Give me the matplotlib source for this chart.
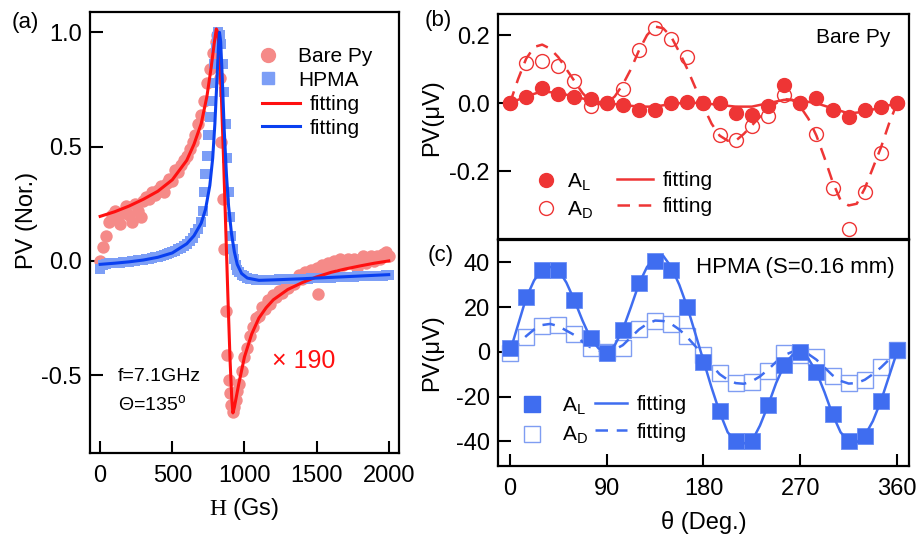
import numpy as np
import matplotlib.pyplot as plt
from matplotlib.lines import Line2D

plt.rcParams['font.family'] = ['Liberation Sans', 'DejaVu Sans']
plt.rcParams['mathtext.fontset'] = 'custom'
plt.rcParams['mathtext.rm'] = 'Liberation Sans'
plt.rcParams['mathtext.it'] = 'Liberation Sans:italic'
plt.rcParams['mathtext.tt'] = 'Liberation Serif'
plt.rcParams['axes.unicode_minus'] = False

# ---- panel (a): normalised PV vs field ----
py_h = np.concatenate([np.arange(0, 801, 20), np.arange(810, 961, 10),
                       np.arange(980, 2001, 20), [1510]])
py_v = [0.00, 0.06, 0.11, 0.17, 0.20, 0.22, 0.19, 0.16, 0.21, 0.24, 0.20,
        0.17, 0.25, 0.22, 0.19, 0.26, 0.28, 0.27, 0.30, 0.29, 0.31, 0.33,
        0.30, 0.34, 0.36, 0.35, 0.40, 0.39, 0.42, 0.44, 0.46, 0.49, 0.52,
        0.55, 0.60, 0.64, 0.70, 0.78, 0.84, 0.91, 0.96,
        0.99, 0.97, 0.80, 0.52, 0.27, 0.05, -0.22, -0.41, -0.52, -0.58,
        -0.63, -0.66, -0.64, -0.61, -0.57, -0.54,
        -0.48, -0.42, -0.38, -0.33, -0.29, -0.25, -0.24, -0.20, -0.21, -0.17,
        -0.19, -0.15, -0.16, -0.13, -0.14, -0.11, -0.12, -0.09, -0.10, -0.08,
        -0.06, -0.08, -0.05, -0.06, -0.04, -0.05, -0.03, -0.04, -0.02, -0.03,
        -0.01, -0.02, 0.00, -0.01, 0.01, -0.02, 0.00, 0.01, -0.01, 0.01,
        -0.03, 0.00, 0.02, -0.01, 0.01, 0.02, 0.00, 0.02, 0.01, 0.03,
        0.04, 0.02,
        -0.145]

hp_h = np.concatenate([np.arange(0, 701, 20), np.arange(710, 961, 10),
                       np.arange(980, 2001, 20)])
hp_v = [-0.035, -0.02, -0.012, -0.01, -0.01, -0.01, -0.008, -0.008, -0.006,
        -0.005, -0.004, -0.002, 0.0, 0.002, 0.004, 0.006, 0.008, 0.01, 0.013,
        0.016, 0.019, 0.022, 0.026, 0.03, 0.034, 0.039, 0.044, 0.05, 0.058,
        0.066, 0.076, 0.088, 0.10, 0.12, 0.14, 0.17,
        0.22, 0.30, 0.38, 0.46, 0.55, 0.63, 0.70, 0.78, 0.86, 0.93, 0.98,
        1.0, 0.99, 0.95, 0.86, 0.74, 0.60, 0.45, 0.30, 0.19, 0.11, 0.05,
        0.01, -0.02, -0.04, -0.05,
        -0.06, -0.068, -0.074, -0.078, -0.08, -0.082, -0.083, -0.083, -0.083,
        -0.083, -0.082, -0.082, -0.082, -0.081, -0.081, -0.08, -0.08, -0.08,
        -0.079, -0.079, -0.078, -0.078, -0.077, -0.077, -0.076, -0.076,
        -0.075, -0.075, -0.074, -0.074, -0.073, -0.073, -0.072, -0.072,
        -0.071, -0.071, -0.07, -0.07, -0.069, -0.069, -0.068, -0.068, -0.067,
        -0.067, -0.066, -0.066, -0.065, -0.065, -0.064, -0.064, -0.063, -0.063]

py_fit_h = [0, 100, 200, 300, 400, 500, 600, 650, 700, 740, 770, 790, 805,
            815, 825, 840, 855, 870, 885, 900, 912, 920, 930, 945, 960, 980,
            1000, 1050, 1100, 1150, 1200, 1300, 1400, 1500, 1600, 1700, 1800,
            1900, 2000]
py_fit_v = [0.195, 0.215, 0.24, 0.27, 0.305, 0.355, 0.44, 0.51, 0.60, 0.72,
            0.85, 0.95, 1.015, 1.0, 0.93, 0.72, 0.45, 0.15, -0.15, -0.43,
            -0.60, -0.665, -0.64, -0.59, -0.54, -0.48, -0.42, -0.32, -0.25,
            -0.205, -0.17, -0.125, -0.095, -0.07, -0.05, -0.035, -0.022,
            -0.01, 0.0]

hp_fit_h = [0, 100, 200, 300, 400, 500, 600, 650, 700, 730, 760, 780, 795,
            810, 820, 827, 835, 845, 860, 875, 890, 910, 930, 950, 980, 1020,
            1100, 1200, 1400, 1600, 1800, 2000]
hp_fit_v = [-0.015, -0.01, -0.004, 0.004, 0.016, 0.035, 0.075, 0.11, 0.165,
            0.225, 0.33, 0.45, 0.60, 0.80, 0.94, 1.0, 0.96, 0.82, 0.57, 0.38,
            0.24, 0.12, 0.04, -0.015, -0.055, -0.075, -0.085, -0.083, -0.078,
            -0.072, -0.066, -0.06]

# ---- panels (b), (c): angle dependence ----
theta = np.arange(0, 361, 15)
theta_fit = np.arange(0, 360.1, 7.5)

bare_al = [0.0, 0.018, 0.046, 0.026, 0.017, 0.012, 0.0, -0.006, -0.02, -0.02,
           0.0, 0.005, 0.0, 0.0, -0.03, -0.035, -0.008, 0.053, 0.0, 0.015,
           -0.02, -0.04, -0.02, -0.012, 0.0]
bare_ad = [0.0, 0.118, 0.125, 0.108, 0.064, -0.008, 0.0, 0.041, 0.155, 0.22,
           0.188, 0.135, 0.0, -0.093, -0.108, -0.067, -0.037, 0.025, 0.0,
           -0.09, -0.25, -0.37, -0.26, -0.147, 0.0]
bare_al_fit = [0.0, 0.02, 0.035, 0.03, 0.02, 0.008, 0.0, -0.005, -0.01, -0.01,
               -0.002, 0.002, 0.0, -0.005, -0.01, -0.01, 0.0, 0.01, 0.008, 0.0,
               -0.015, -0.03, -0.025, -0.012, 0.0]
bare_ad_fit = [0.0, 0.07, 0.13, 0.165, 0.172, 0.16, 0.135, 0.10, 0.065, 0.03,
               0.005, -0.003, 0.0, 0.02, 0.055, 0.10, 0.155, 0.20, 0.225,
               0.22, 0.195, 0.15, 0.10, 0.045, -0.01, -0.06, -0.095, -0.11,
               -0.11, -0.09, -0.065, -0.04, -0.02, 0.0, 0.012, 0.01, -0.01,
               -0.045, -0.095, -0.16, -0.23, -0.285, -0.30, -0.295, -0.25,
               -0.19, -0.13, -0.06, 0.0]

hpma_al = [1.9, 24.4, 36.6, 36.6, 23.0, 6.4, -0.4, 9.9, 30.7, 40.7, 36.6,
           20.0, -4.4, -26.7, -40.0, -40.0, -23.7, -5.9, 0.0, -8.9, -27.9,
           -40.0, -37.5, -22.2, 0.7]
hpma_ad = [-0.7, 6.7, 11.4, 11.9, 7.9, 1.9, 0.0, 1.9, 10.4, 13.6, 12.6, 7.0,
           -1.5, -9.6, -14.1, -13.3, -8.4, -0.7, -1.5, -2.2, -10.8, -14.1,
           -12.6, -6.7, 0.7]
hpma_al_fit = [0, 12, 24, 32, 36.8, 38, 36.8, 31, 23, 14, 6, 1.5, 0, 3, 10,
               20, 30.5, 38, 42, 43, 38, 30, 20, 8, -4, -16, -27, -36, -40,
               -41, -40, -33, -24, -14, -6, -1.5, 0, -3, -9, -18, -28, -36,
               -40, -40.5, -37.5, -31, -22, -11, 0]
hpma_ad_fit = [0, 3.5, 7, 10, 12, 12.5, 11.5, 9.5, 7.5, 4.5, 2, 0.5, 0, 1, 3,
               6.5, 10, 12.5, 14, 13.8, 12.5, 10, 6.5, 2.5, -2, -6, -10, -12.5,
               -14, -14.3, -13.2, -11, -8, -4.5, -1.5, 0, 0, -1, -3.5, -7,
               -10.5, -13, -14.2, -14, -12.5, -10, -7, -3.5, 0]

red_light = '#F58A88'
blue_light = '#7C9EF6'
red = '#FF1010'
blue = '#0A40F0'
red_b = '#EE3535'
blue_c = '#3F6DF0'
blue_open = '#7F9DF2'
dash = (0, (5, 3.5))

fig = plt.figure(figsize=(9.19, 5.36), dpi=100)
ax_a = fig.add_axes([0.098, 0.155, 0.336, 0.823])
ax_b = fig.add_axes([0.542, 0.555, 0.447, 0.419])
ax_c = fig.add_axes([0.542, 0.131, 0.447, 0.421])


def style(ax):
    for s in ax.spines.values():
        s.set_linewidth(1.6)
    ax.tick_params(direction='in', length=9, width=1.5, labelsize=17,
                   top=False, right=False)
    ax.tick_params(axis='y', pad=6)
    ax.tick_params(axis='x', pad=9)


def two_legends(ax, marks, mlabels, lines, llabels, xy_m, xy_l, pad_m, len_l,
                spacing):
    kw = dict(loc='upper left', frameon=False, fontsize=15, borderpad=0,
              borderaxespad=0, labelspacing=spacing)
    leg1 = ax.legend(marks, mlabels, bbox_to_anchor=xy_m, handlelength=1.0,
                     handletextpad=pad_m, **kw)
    ax.add_artist(leg1)
    ax.legend(lines, llabels, bbox_to_anchor=xy_l, handlelength=len_l,
              handletextpad=0.45, **kw)


# (a)
ax_a.scatter(py_h, py_v, s=80, marker='o', color=red_light, lw=0, zorder=2)
ax_a.scatter(hp_h, hp_v, s=60, marker='s', color=blue_light, lw=0, zorder=3)
ax_a.plot(py_fit_h, py_fit_v, color=red, lw=2.2, zorder=4)
ax_a.plot(hp_fit_h, hp_fit_v, color=blue, lw=2.2, zorder=5)
ax_a.set_xlim(-70, 2070)
ax_a.set_ylim(-0.84, 1.09)
ax_a.set_xticks([0, 500, 1000, 1500, 2000])
ax_a.set_yticks([-0.5, 0.0, 0.5, 1.0])
ax_a.set_yticklabels(['-0.5', '0.0', '0.5', '1.0'])
style(ax_a)
ax_a.set_ylabel('PV (Nor.)', fontsize=17)
ax_a.yaxis.set_label_coords(-0.17, 0.528)
ax_a.set_xlabel(r'$\mathtt{H}$ (Gs)', fontsize=17, labelpad=6)
two_legends(ax_a,
            [Line2D([], [], ls='', marker='o', ms=10, color=red_light),
             Line2D([], [], ls='', marker='s', ms=9, color=blue_light)],
            ['Bare Py', 'HPMA'],
            [Line2D([], [], color=red, lw=2.2),
             Line2D([], [], color=blue, lw=2.2)],
            ['fitting', 'fitting'],
            (0.542, 0.920), (0.557, 0.811), 0.94, 1.82, 0.22)
ax_a.text(1190, -0.44, '× 190', color=red, fontsize=18, va='center')
ax_a.text(124, -0.505, 'f=7.1GHz', fontsize=14, va='center')
ax_a.text(124, -0.628, r'Θ=135$^\mathrm{o}$', fontsize=14, va='center')

# (b)
ax_b.plot(theta, bare_ad, ls='', marker='o', ms=10, mfc='none', mec=red_b,
          mew=1.0, zorder=2)
ax_b.plot(theta_fit, bare_ad_fit, color=red_b, lw=1.8, ls=dash, zorder=3)
ax_b.plot(theta, bare_al, ls='', marker='o', ms=10, color=red_b, zorder=4)
ax_b.plot(theta, bare_al_fit, color=red_b, lw=1.8, zorder=5)
ax_b.set_xlim(-11, 371)
ax_b.set_ylim(-0.397, 0.262)
ax_b.set_yticks([-0.2, 0.0, 0.2])
ax_b.set_yticklabels(['-0.2', '0.0', '0.2'])
style(ax_b)
ax_b.tick_params(bottom=False, labelbottom=False)
ax_b.set_ylabel('PV(μV)', fontsize=17)
ax_b.yaxis.set_label_coords(-0.135, 0.54)
ax_b.text(0.955, 0.893, 'Bare Py', transform=ax_b.transAxes, fontsize=15,
          ha='right', va='center')
two_legends(ax_b,
            [Line2D([], [], ls='', marker='o', ms=10, color=red_b),
             Line2D([], [], ls='', marker='o', ms=10, mfc='none', mec=red_b,
                    mew=1.0)],
            [r'A$_\mathrm{L}$', r'A$_\mathrm{D}$'],
            [Line2D([], [], color=red_b, lw=1.8),
             Line2D([], [], color=red_b, lw=1.8, ls=dash)],
            ['fitting', 'fitting'],
            (0.0915, 0.299), (0.2895, 0.299), 0.51, 1.73, 0.34)

# (c)
ax_c.plot(theta, hpma_ad, ls='', marker='s', ms=11.5, mfc='white',
          mec=blue_open, mew=1.0, zorder=2)
ax_c.plot(theta_fit, hpma_ad_fit, color=blue_c, lw=1.8, ls=dash, zorder=3)
ax_c.plot(theta, hpma_al, ls='', marker='s', ms=11.5, color=blue_c,
          mec='#6A8EF5', mew=0.6, zorder=4)
ax_c.plot(theta_fit, hpma_al_fit, color=blue_c, lw=1.8, zorder=5)
ax_c.set_xlim(-11, 371)
ax_c.set_ylim(-51, 50)
ax_c.set_xticks([0, 90, 180, 270, 360])
ax_c.set_yticks([-40, -20, 0, 20, 40])
style(ax_c)
ax_c.set_ylabel('PV(μV)', fontsize=17)
ax_c.yaxis.set_label_coords(-0.135, 0.5)
ax_c.set_xlabel('θ (Deg.)', fontsize=17, labelpad=8)
ax_c.text(0.966, 0.88, 'HPMA (S=0.16 mm)', transform=ax_c.transAxes,
          fontsize=16, ha='right', va='center')
two_legends(ax_c,
            [Line2D([], [], ls='', marker='s', ms=11, color=blue_c),
             Line2D([], [], ls='', marker='s', ms=11, mfc='white',
                    mec=blue_open, mew=1.0)],
            [r'A$_\mathrm{L}$', r'A$_\mathrm{D}$'],
            [Line2D([], [], color=blue_c, lw=1.8),
             Line2D([], [], color=blue_c, lw=1.8, ls=dash)],
            ['fitting', 'fitting'],
            (0.057, 0.312), (0.236, 0.312), 0.94, 1.54, 0.39)

fig.text(0.013, 0.958, '(a)', fontsize=16, va='center')
fig.text(0.462, 0.962, '(b)', fontsize=16, va='center')
fig.text(0.465, 0.524, '(c)', fontsize=16, va='center')

fig.savefig('out.png', dpi=100)
